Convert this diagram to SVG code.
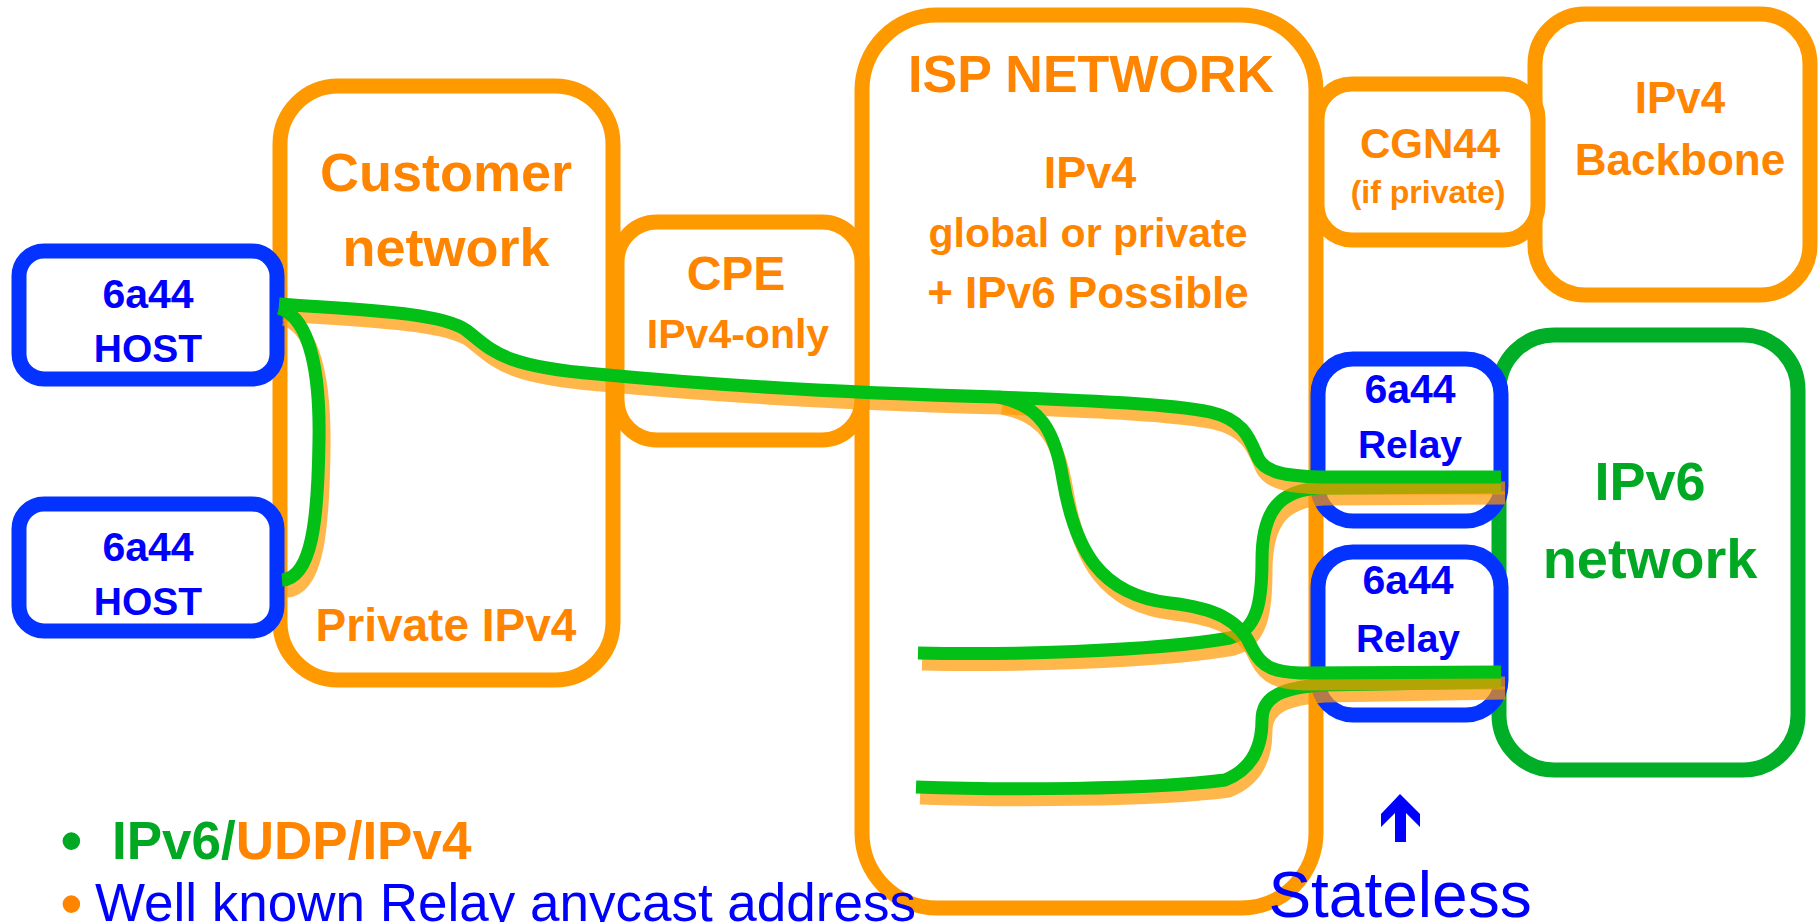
<svg xmlns="http://www.w3.org/2000/svg" width="1820" height="922" viewBox="0 0 1820 922">
<style>
.ob{fill:#fff;stroke:#FF9900;stroke-width:15}
.bb{fill:#fff;stroke:#0433FF;stroke-width:15}
.gb{fill:#fff;stroke:#00AE27;stroke-width:15}
text{font-family:"Liberation Sans",Arial,sans-serif;font-weight:bold;text-anchor:middle}
.ot{fill:#FF8400}
.bt{fill:#0000FF}
.gt{fill:#00A823}
.sh{fill:none;stroke:#FF9900;stroke-opacity:0.7;stroke-width:13}
.ln{fill:none;stroke:#02C016;stroke-width:13}
.lt{text-anchor:start}
.nw{font-weight:normal}
</style>
<rect width="1820" height="922" fill="#fff"/>
<g id="customer">
<rect class="ob" x="280" y="86" width="333" height="594" rx="58"/>
<text class="ot" x="446" y="191" font-size="54">Customer</text>
<text class="ot" x="446" y="266" font-size="54">network</text>
<text class="ot" x="446" y="641" font-size="46">Private IPv4</text>
</g>
<g id="isp">
<rect class="ob" x="862" y="15" width="454" height="893" rx="75"/>
<text class="ot" x="1091" y="92" font-size="52">ISP NETWORK</text>
<text class="ot" x="1090" y="188" font-size="45">IPv4</text>
<text class="ot" x="1088" y="247" font-size="41">global or private</text>
<text class="ot" x="1088" y="308" font-size="44">+ IPv6 Possible</text>
</g>
<g id="backbone">
<rect class="ob" x="1535" y="14" width="275" height="281" rx="50"/>
<text class="ot" x="1680" y="113" font-size="44">IPv4</text>
<text class="ot" x="1680" y="175" font-size="44">Backbone</text>
</g>
<g id="cpe">
<rect class="ob" x="617" y="222" width="245" height="218" rx="40"/>
<text class="ot" x="736" y="290" font-size="48">CPE</text>
<text class="ot" x="738" y="348" font-size="41">IPv4-only</text>
</g>
<g id="cgn44">
<rect class="ob" x="1317" y="84" width="221" height="156" rx="35"/>
<text class="ot" x="1430" y="158" font-size="42">CGN44</text>
<text class="ot" x="1428" y="203" font-size="32">(if private)</text>
</g>
<g id="ipv6net">
<rect class="gb" x="1499" y="335" width="299" height="435" rx="55"/>
<text class="gt" x="1650" y="500" font-size="54">IPv6</text>
<text class="gt" x="1650" y="578" font-size="56">network</text>
</g>
<g id="host1">
<rect class="bb" x="19" y="251" width="258" height="128" rx="25"/>
<text class="bt" x="148" y="308" font-size="41">6a44</text>
<text class="bt" x="148" y="362" font-size="39">HOST</text>
</g>
<g id="host2">
<rect class="bb" x="19" y="504" width="258" height="127" rx="25"/>
<text class="bt" x="148" y="561" font-size="41">6a44</text>
<text class="bt" x="148" y="615" font-size="39">HOST</text>
</g>
<g id="relay1">
<rect class="bb" x="1318" y="359" width="183" height="162" rx="35"/>
<text class="bt" x="1410" y="403" font-size="41">6a44</text>
<text class="bt" x="1410" y="458" font-size="39">Relay</text>
</g>
<g id="relay2">
<rect class="bb" x="1318" y="552" width="183" height="163" rx="35"/>
<text class="bt" x="1408" y="594" font-size="41">6a44</text>
<text class="bt" x="1408" y="652" font-size="39">Relay</text>
</g>
<g id="connectors">
<path class="sh" transform="translate(4,11)" d="M918,653 C1000,655 1150,652 1230,638 C1258,630 1262,600 1262,560 C1262,510 1280,490 1320,488 L1501,487"/>
<path class="ln" d="M918,653 C1000,655 1150,652 1230,638 C1258,630 1262,600 1262,560 C1262,510 1280,490 1320,488 L1501,487"/>
<path class="sh" transform="translate(4,11)" d="M916,787 C1000,790 1150,790 1225,780 C1250,770 1262,750 1262,720 C1262,695 1285,688 1320,685 L1501,682"/>
<path class="ln" d="M916,787 C1000,790 1150,790 1225,780 C1250,770 1262,750 1262,720 C1262,695 1285,688 1320,685 L1501,682"/>
<path class="sh" transform="translate(4,11)" d="M279,304 C360,310 440,312 466,330 C492,350 500,366 597,374 C700,384 850,393 998,397 C1100,401 1170,404 1210,412 C1245,420 1250,440 1258,458 C1266,474 1290,476 1320,477 L1501,477"/>
<path class="ln" d="M279,304 C360,310 440,312 466,330 C492,350 500,366 597,374 C700,384 850,393 998,397 C1100,401 1170,404 1210,412 C1245,420 1250,440 1258,458 C1266,474 1290,476 1320,477 L1501,477"/>
<path class="sh" transform="translate(4,11)" d="M998,397 C1040,405 1055,430 1063,480 C1075,550 1100,595 1170,603 C1215,608 1240,620 1252,648 C1262,668 1275,672 1300,673 L1501,672"/>
<path class="ln" d="M998,397 C1040,405 1055,430 1063,480 C1075,550 1100,595 1170,603 C1215,608 1240,620 1252,648 C1262,668 1275,672 1300,673 L1501,672"/>
<path class="sh" transform="translate(5,11)" d="M279,308 C312,318 320,380 319,440 C318,520 312,578 282,580"/>
<path class="ln" d="M279,308 C312,318 320,380 319,440 C318,520 312,578 282,580"/>
</g>
<g id="stateless">
<path fill="#0000FF" d="M1400,794 L1420,814 L1420,827 L1406,813 L1406,842 L1395,842 L1395,813 L1381,827 L1381,814 Z"/>
<text class="nw" x="1400" y="917" font-size="64" fill="#0000FF">Stateless</text>
</g>
<g id="legend">
<text class="lt nw" x="60" y="863" font-size="65" fill="#00A823">•</text>
<text class="lt" x="112" y="859" font-size="53"><tspan fill="#00A823">IPv6/</tspan><tspan fill="#FF8400">UDP/IPv4</tspan></text>
<text class="lt nw" x="60" y="926" font-size="65" fill="#FF8400">•</text>
<text class="lt nw" x="95" y="921" font-size="53" fill="#0000FF">Well known Relay anycast address</text>
</g>
</svg>
